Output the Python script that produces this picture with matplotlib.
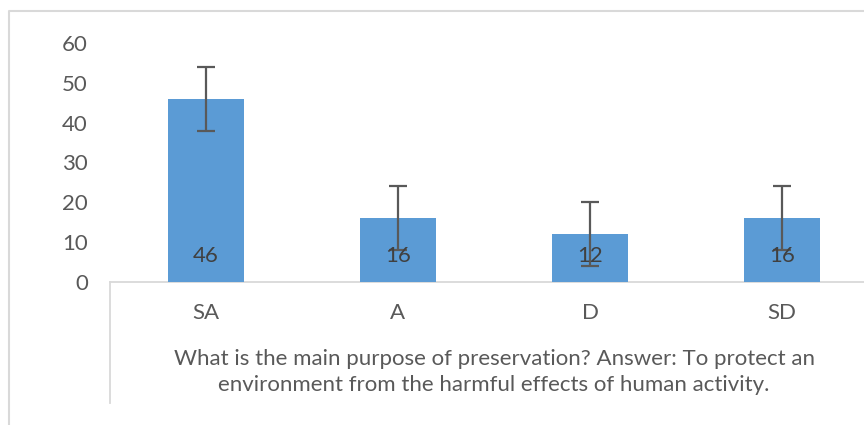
import matplotlib
matplotlib.use("Agg")
import matplotlib.pyplot as plt
from matplotlib.lines import Line2D

categories = ["SA", "A", "D", "SD"]
values = [46, 16, 12, 16]
errors = [8, 8, 8, 8]
title_text = ("What is the main purpose of preservation? Answer: To protect an\n"
              "environment from the harmful effects of human activity.")

plt.rcParams["font.family"] = ["Lato", "DejaVu Sans"]

W, H = 864, 425
fig = plt.figure(figsize=(W / 100, H / 100), dpi=100)

# axes spans px 110..878 horizontally, y=0 at px 282, y=60 at px 43
ax = fig.add_axes([110 / W, (H - 282) / H, 768 / W, 239 / H])
x = range(len(categories))
ax.bar(x, values, width=0.4, color="#5B9BD5", zorder=2)
ax.errorbar(x, values, yerr=errors, fmt="none", ecolor="#595959",
            elinewidth=1.6, capsize=6.5, capthick=1.6, zorder=3)
for i, v in enumerate(values):
    ax.text(i, 6.6, str(v), ha="center", va="center", fontsize=16,
            color="#404040", zorder=4)

ax.set_xlim(-0.5, len(categories) - 0.5)
ax.set_ylim(0, 60)
ax.set_yticks(range(0, 61, 10))
ax.set_xticks(list(x))
ax.set_xticklabels(categories)
ax.tick_params(axis="both", length=0, labelsize=16, colors="#595959")
ax.tick_params(axis="y", pad=16)
ax.tick_params(axis="x", pad=15)
for s in ["top", "right", "left"]:
    ax.spines[s].set_visible(False)
ax.spines["bottom"].set_color("#D9D9D9")
ax.spines["bottom"].set_linewidth(1.3)
ax.spines["bottom"].set_zorder(1)

fig.text(494 / W, 1 - 372 / H, title_text, ha="center", va="center",
         fontsize=16, color="#595959", linespacing=1.32)

# divider below axis and chart border
fig.add_artist(Line2D([110 / W, 110 / W], [1 - 282 / H, 1 - 403 / H],
                      transform=fig.transFigure, color="#D9D9D9", lw=1.3))
fig.add_artist(Line2D([9 / W, 9 / W, 1], [0, 1 - 11 / H, 1 - 11 / H],
                      transform=fig.transFigure, color="#D9D9D9", lw=1.5))

fig.savefig("out.png", dpi=100)
